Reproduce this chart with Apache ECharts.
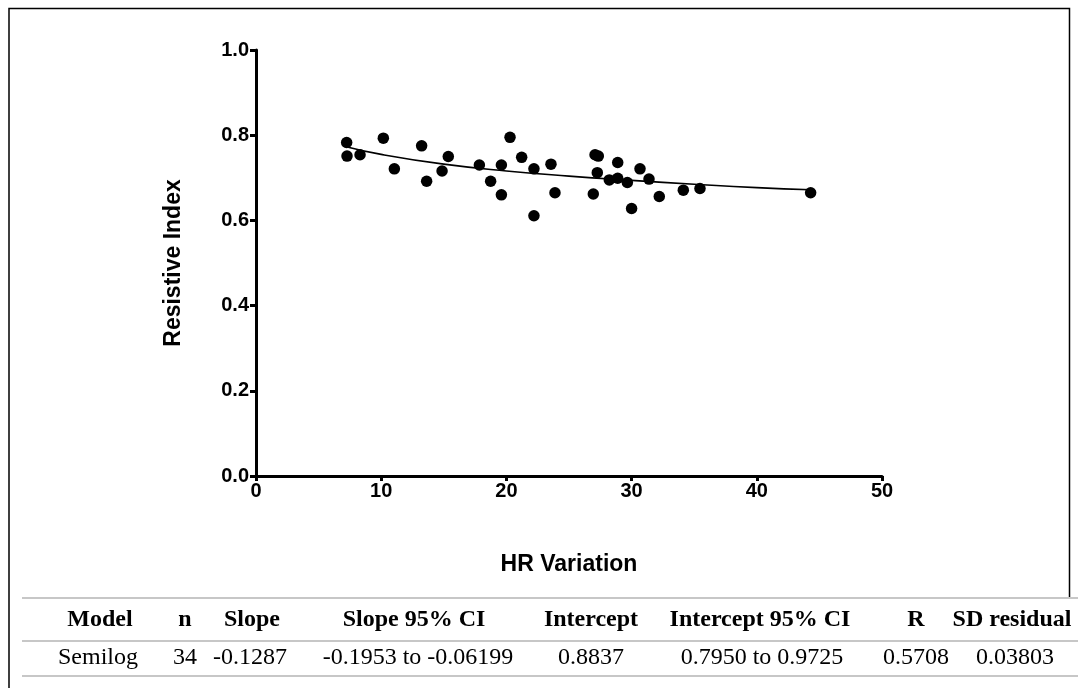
<!DOCTYPE html>
<html>
<head>
<meta charset="utf-8">
<script src="https://cdn.jsdelivr.net/npm/echarts@6/dist/echarts.min.js"></script>
<style>
html,body{margin:0;padding:0;background:#fff;}
#chart{width:1078px;height:688px;}
</style>
</head>
<body>
<div id="chart"></div>
<script>
// Scatter data: HR Variation (x) vs Resistive Index (y)
const hrVariation = [7.24, 7.27, 8.31, 10.17, 11.05, 13.23, 13.63, 15.36, 14.86, 17.84,
  18.74, 19.6, 19.6, 20.29, 21.22, 22.2, 22.2, 23.56, 23.88, 27.08,
  27.34, 27.26, 26.94, 28.22, 28.89, 28.89, 29.66, 30.0, 30.67, 31.39,
  32.21, 34.13, 35.46, 44.3];
const resistiveIndex = [0.783, 0.751, 0.754, 0.793, 0.721, 0.775, 0.692, 0.750, 0.716, 0.730,
  0.692, 0.730, 0.660, 0.795, 0.748, 0.721, 0.611, 0.732, 0.665, 0.754,
  0.751, 0.712, 0.662, 0.695, 0.699, 0.736, 0.689, 0.628, 0.721, 0.697,
  0.656, 0.671, 0.675, 0.665];
// Fitted curve, points
const fitX = [7.2, 10, 15, 20, 25, 30, 35, 40, 44.3];
const fitY = [0.773, 0.755, 0.732, 0.716, 0.704, 0.694, 0.685, 0.677, 0.672];

const xTicks = [0, 10, 20, 30, 40, 50];
const yTicks = [0.0, 0.2, 0.4, 0.6, 0.8, 1.0];

const tableHeaders = ['Model', 'n', 'Slope', 'Slope 95% CI', 'Intercept', 'Intercept 95% CI', 'R', 'SD residual'];
const tableRow = ['Semilog', '34', '-0.1287', '-0.1953 to -0.06199', '0.8837', '0.7950 to 0.9725', '0.5708', '0.03803'];

const headCenters = [100, 185, 252, 414, 591, 760, 916, 1012];
const rowCenters = [98, 185, 250, 418, 591, 762, 916, 1015];

const chart = echarts.init(document.getElementById('chart'), null, {renderer: 'canvas'});

const graphics = [];
// frame
graphics.push({type: 'polyline', shape: {points: [[9, 688], [9, 8.5], [1069.5, 8.5], [1069.5, 597]]},
  style: {stroke: '#000', lineWidth: 1.5, fill: null}, silent: true});
// table rules
[598, 641, 676].forEach(y => graphics.push({type: 'line', shape: {x1: 22, y1: y, x2: 1078, y2: y},
  style: {stroke: '#b4b4b4', lineWidth: 1.5}, silent: true}));
const serif = '"Liberation Serif", "Times New Roman", serif';
tableHeaders.forEach((t, i) => graphics.push({type: 'text', x: headCenters[i], y: 620,
  style: {text: t, fill: '#000', font: 'bold 24px ' + serif, textAlign: 'center', textVerticalAlign: 'middle'}}));
tableRow.forEach((t, i) => graphics.push({type: 'text', x: rowCenters[i], y: 658,
  style: {text: t, fill: '#000', font: '24px ' + serif, textAlign: 'center', textVerticalAlign: 'middle'}}));

const sans = '"Liberation Sans", Arial, sans-serif';
const labelFont = {color: '#000', fontFamily: sans, fontWeight: 'bold', fontSize: 20};

chart.setOption({
  backgroundColor: '#fff',
  animation: false,
  grid: {left: 256, top: 50, width: 626, height: 426, containLabel: false},
  xAxis: {
    type: 'value', min: 0, max: 50, interval: 10,
    name: 'HR Variation', nameLocation: 'middle', nameGap: 77,
    nameTextStyle: {color: '#000', fontFamily: sans, fontWeight: 'bold', fontSize: 23},
    axisLine: {show: true, onZero: false, lineStyle: {color: '#000', width: 3}},
    axisTick: {show: true, length: 5, inside: false, lineStyle: {color: '#000', width: 3}},
    axisLabel: Object.assign({margin: 5, formatter: v => xTicks.includes(v) ? String(v) : ''}, labelFont),
    splitLine: {show: false}
  },
  yAxis: {
    type: 'value', min: 0, max: 1, interval: 0.2,
    name: 'Resistive Index', nameLocation: 'middle', nameGap: 71, nameRotate: 90,
    nameTextStyle: {color: '#000', fontFamily: sans, fontWeight: 'bold', fontSize: 23},
    axisLine: {show: true, onZero: false, lineStyle: {color: '#000', width: 3}},
    axisTick: {show: true, length: 6, lineStyle: {color: '#000', width: 3}},
    axisLabel: Object.assign({margin: 7, formatter: v => {
      const m = yTicks.find(t => Math.abs(t - v) < 1e-9);
      return m === undefined ? '' : m.toFixed(1);
    }}, labelFont),
    splitLine: {show: false}
  },
  series: [
    {
      type: 'line', data: fitX.map((x, i) => [x, fitY[i]]), smooth: true, showSymbol: false,
      lineStyle: {color: '#000', width: 1.6}, z: 2
    },
    {
      type: 'scatter', data: hrVariation.map((x, i) => [x, resistiveIndex[i]]),
      symbol: 'circle', symbolSize: 11.5, itemStyle: {color: '#000', opacity: 1}, z: 3
    }
  ],
  graphic: graphics
});
</script>
</body>
</html>
